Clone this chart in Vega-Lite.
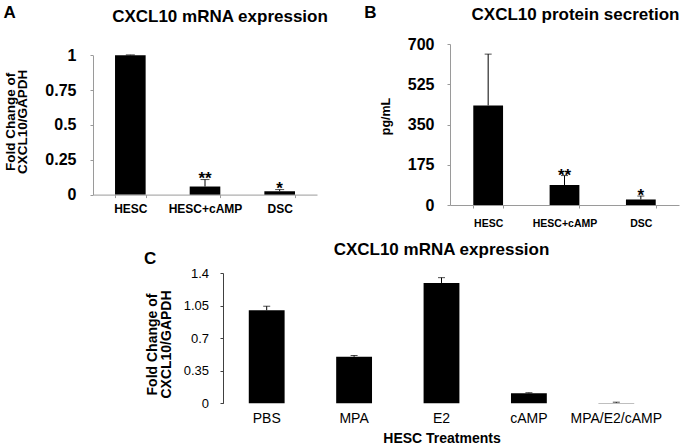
{
  "$schema": "https://vega.github.io/schema/vega-lite/v6.json",
  "padding": {"left": 2, "top": 3, "right": 0, "bottom": 0},
  "background": "white",
  "config": {
    "view": {"stroke": null},
    "font": "Liberation Sans",
    "axis": {"grid": false, "labelColor": "#000", "titleColor": "#000", "labelOverlap": false},
    "title": {"color": "#000"}
  },
  "spacing": 11,
  "vconcat": [
    {
      "spacing": 34,
      "hconcat": [
        {
          "width": 224,
          "height": 150.6,
          "title": {"text": "CXCL10 mRNA expression", "fontSize": 17, "fontWeight": "bold", "anchor": "middle", "frame": "group", "dx": 15, "offset": -35.5, "baseline": "alphabetic"},
          "data": {"values": [
            {"cell": "HESC", "value": 1.0, "upper": 1.003, "sig": ""},
            {"cell": "HESC+cAMP", "value": 0.058, "upper": 0.108, "sig": "**"},
            {"cell": "DSC", "value": 0.024, "upper": 0.036, "sig": "*"}
          ]},
          "encoding": {
            "x": {"field": "cell", "type": "nominal", "sort": null,
              "scale": {"paddingInner": 0.59, "paddingOuter": 0.295},
              "axis": {"labelAngle": 0, "tickBand": "extent", "domainColor": "#9a9a9a", "tickColor": "#9a9a9a", "tickSize": 3,
                "labelFontSize": 12, "labelFontWeight": "bold", "labelPadding": 6,
                "title": "A", "titleFontSize": 17, "titleFontWeight": "bold", "titleX": -90, "titleY": -176.8,
                "titleAlign": "left", "titleBaseline": "alphabetic", "titleAngle": 0}}
          },
          "layer": [
            {
              "mark": {"type": "bar", "color": "#000"},
              "encoding": {
                "y": {"field": "value", "type": "quantitative", "scale": {"domain": [0, 1], "nice": false, "range": [150.6, 11.3]},
                  "axis": {"values": [0, 0.25, 0.5, 0.75, 1], "tickCount": 5, "labelExpr": "'' + datum.value", "labelOverlap": false, "domainColor": "#9a9a9a", "tickColor": "#9a9a9a", "tickSize": 3,
                    "labelFontSize": 16, "labelFontWeight": "bold", "labelPadding": 14,
                    "title": ["Fold Change of", "CXCL10/GAPDH"], "titleFontSize": 13.5, "titleFontWeight": "bold", "titleLineHeight": 12.5,
                    "titleX": -79, "titleY": 77.3, "titleAlign": "center", "titleBaseline": "alphabetic", "titleAngle": -90}}
              }
            },
            {
              "mark": {"type": "rule", "color": "#000", "strokeWidth": 1},
              "encoding": {
                "y": {"field": "value", "type": "quantitative", "scale": {"domain": [0, 1], "nice": false, "range": [150.6, 11.3]}},
                "y2": {"field": "upper"}
              }
            },
            {
              "mark": {"type": "tick", "color": "#000", "size": 9, "thickness": 1},
              "encoding": {
                "y": {"field": "upper", "type": "quantitative", "scale": {"domain": [0, 1], "nice": false, "range": [150.6, 11.3]}}
              }
            },
            {
              "mark": {"type": "text", "fontSize": 17, "fontWeight": "bold", "baseline": "alphabetic", "dy": 4, "color": "#000"},
              "encoding": {
                "y": {"field": "upper", "type": "quantitative", "scale": {"domain": [0, 1], "nice": false, "range": [150.6, 11.3]}},
                "text": {"field": "sig"}
              }
            }
          ]
        },
        {
          "width": 229,
          "height": 161,
          "title": {"text": "CXCL10 protein secretion", "fontSize": 17, "fontWeight": "bold", "anchor": "middle", "frame": "group", "dx": 11, "offset": -34, "baseline": "alphabetic"},
          "data": {"values": [
            {"cell": "HESC", "value": 433, "upper": 656, "sig": ""},
            {"cell": "HESC+cAMP", "value": 87, "upper": 128, "sig": "**"},
            {"cell": "DSC", "value": 24, "upper": 39, "sig": "*"}
          ]},
          "encoding": {
            "x": {"field": "cell", "type": "nominal", "sort": null,
              "scale": {"paddingInner": 0.61, "paddingOuter": 0.305},
              "axis": {"labelAngle": 0, "tickBand": "extent", "domainColor": "#9a9a9a", "tickColor": "#9a9a9a", "tickSize": 3,
                "labelFontSize": 10.5, "labelFontWeight": "bold", "labelPadding": 10.5,
                "title": "B", "titleFontSize": 17, "titleFontWeight": "bold", "titleX": -86.3, "titleY": -188,
                "titleAlign": "left", "titleBaseline": "alphabetic", "titleAngle": 0}}
          },
          "layer": [
            {
              "mark": {"type": "bar", "color": "#000"},
              "encoding": {
                "y": {"field": "value", "type": "quantitative", "scale": {"domain": [0, 700], "nice": false},
                  "axis": {"values": [0, 175, 350, 525, 700], "tickCount": 5, "labelExpr": "'' + datum.value", "labelOverlap": false, "domainColor": "#9a9a9a", "tickColor": "#9a9a9a", "tickSize": 3,
                    "labelFontSize": 16, "labelFontWeight": "bold", "labelPadding": 13,
                    "title": "pg/mL", "titleFontSize": 12.5, "titleFontWeight": "bold",
                    "titleX": -61, "titleY": 72, "titleAlign": "center", "titleBaseline": "alphabetic", "titleAngle": -90}}
              }
            },
            {
              "mark": {"type": "rule", "color": "#000", "strokeWidth": 1},
              "encoding": {
                "y": {"field": "value", "type": "quantitative", "scale": {"domain": [0, 700], "nice": false}},
                "y2": {"field": "upper"}
              }
            },
            {
              "mark": {"type": "tick", "color": "#000", "size": 7, "thickness": 1},
              "encoding": {
                "y": {"field": "upper", "type": "quantitative", "scale": {"domain": [0, 700], "nice": false}}
              }
            },
            {
              "mark": {"type": "text", "fontSize": 17, "fontWeight": "bold", "baseline": "alphabetic", "dy": 5, "color": "#000"},
              "encoding": {
                "y": {"field": "upper", "type": "quantitative", "scale": {"domain": [0, 700], "nice": false}},
                "text": {"field": "sig"}
              }
            }
          ]
        }
      ]
    },
    {
      "spacing": 0,
      "hconcat": [
        {"width": 49.5, "height": 1, "data": {"values": []}, "mark": "point"},
        {
          "width": 437,
          "height": 130.3,
          "title": {"text": "CXCL10 mRNA expression", "fontSize": 17, "fontWeight": "bold", "anchor": "middle", "frame": "group", "offset": -22.5, "baseline": "alphabetic"},
          "data": {"values": [
            {"treatment": "PBS", "value": 1.0, "upper": 1.043},
            {"treatment": "MPA", "value": 0.5, "upper": 0.514},
            {"treatment": "E2", "value": 1.293, "upper": 1.35},
            {"treatment": "cAMP", "value": 0.107, "upper": 0.114},
            {"treatment": "MPA/E2/cAMP", "value": 0.004, "upper": 0.012}
          ]},
          "resolve": {"axis": {"x": "independent"}},
          "layer": [
            {
              "mark": {"type": "bar", "color": "#000"},
              "encoding": {
                "x": {"field": "treatment", "type": "nominal", "sort": null,
                  "scale": {"paddingInner": 0.59, "paddingOuter": 0.295},
                  "axis": {"orient": "bottom", "labelAngle": 0, "domain": false, "ticks": false,
                    "labelFontSize": 14, "labelPadding": 8,
                    "title": "HESC Treatments", "titleFontSize": 14, "titleFontWeight": "bold", "titlePadding": 6}},
                "y": {"field": "value", "type": "quantitative", "scale": {"domain": [0, 1.4], "nice": false},
                  "axis": {"values": [0, 0.35, 0.7, 1.05, 1.4], "tickCount": 5, "labelExpr": "'' + datum.value", "labelOverlap": false, "domainColor": "#404040", "tickColor": "#404040", "tickSize": 3,
                    "labelFontSize": 13, "labelPadding": 11.5,
                    "title": ["Fold Change of", "CXCL10/GAPDH"], "titleFontSize": 14, "titleFontWeight": "bold", "titleLineHeight": 13.5,
                    "titleX": -66.3, "titleY": 71, "titleAlign": "center", "titleBaseline": "alphabetic", "titleAngle": -90}}
              }
            },
            {
              "mark": {"type": "rule", "color": "#000", "strokeWidth": 1},
              "encoding": {
                "x": {"field": "treatment", "type": "nominal", "sort": null,
                  "scale": {"paddingInner": 0.59, "paddingOuter": 0.295},
                  "axis": {"orient": "top", "domain": false, "ticks": false, "labels": false,
                    "title": "C", "titleFontSize": 17, "titleFontWeight": "bold", "titleX": -79.5, "titleY": -10,
                    "titleAlign": "left", "titleBaseline": "alphabetic", "titleAngle": 0}},
                "y": {"field": "value", "type": "quantitative", "scale": {"domain": [0, 1.4], "nice": false}},
                "y2": {"field": "upper"}
              }
            },
            {
              "mark": {"type": "tick", "color": "#000", "size": 7, "thickness": 1},
              "encoding": {
                "x": {"field": "treatment", "type": "nominal", "sort": null, "scale": {"paddingInner": 0.59, "paddingOuter": 0.295}, "axis": null},
                "y": {"field": "upper", "type": "quantitative", "scale": {"domain": [0, 1.4], "nice": false}}
              }
            }
          ]
        }
      ]
    }
  ]
}
